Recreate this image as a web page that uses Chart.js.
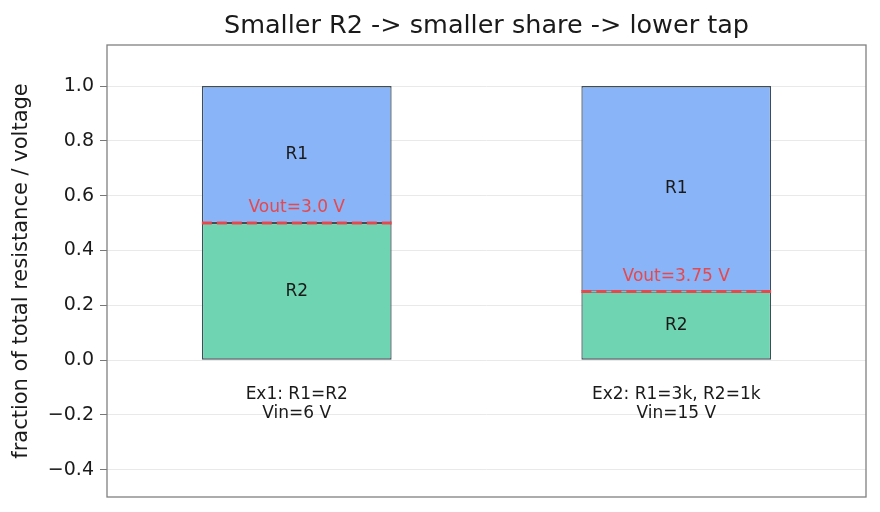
<!DOCTYPE html>
<html>
<head>
<meta charset="utf-8">
<script src="https://cdn.jsdelivr.net/npm/chart.js@4.4.1/dist/chart.umd.min.js"></script>
<style>
  html, body { margin: 0; padding: 0; background: #fff; overflow: hidden; }
  #wrap { width: 880px; height: 512px; position: relative; }
</style>
</head>
<body>
<div id="wrap"><canvas id="divider"></canvas></div>
<script>
const categories = ["Ex1: R1=R2\nVin=6 V", "Ex2: R1=3k, R2=1k\nVin=15 V"];
const r2Share = [0.5, 0.25];
const r1Share = [0.5, 0.75];
const vin = [6, 15];
const vout = [3.0, 3.75];
const voutText = ["3.0", "3.75"];
const yTicks = [-0.4, -0.2, 0.0, 0.2, 0.4, 0.6, 0.8, 1.0];

const FONT = "'DejaVu Sans', sans-serif";
const RED = "#e5484d";

const overlay = {
  id: "overlay",
  afterDatasetsDraw(chart) {
    const { ctx, chartArea, scales } = chart;
    const y = scales.y;
    const bars = chart.getDatasetMeta(0).data;
    ctx.save();

    bars.forEach((bar, i) => {
      const half = bar.width / 2;
      const cx = bar.x;
      // text inside segments
      ctx.fillStyle = "#1a1a1a";
      ctx.font = "17px " + FONT;
      ctx.textAlign = "center";
      ctx.textBaseline = "middle";
      ctx.fillText("R2", cx, y.getPixelForValue(r2Share[i] / 2));
      ctx.fillText("R1", cx, y.getPixelForValue(r2Share[i] + r1Share[i] / 2));

      // vout line
      const vy = y.getPixelForValue(vout[i] / vin[i]);
      ctx.strokeStyle = RED;
      ctx.lineWidth = 3;
      ctx.setLineDash([10, 5]);
      ctx.beginPath();
      ctx.moveTo(cx - half, vy);
      ctx.lineTo(cx + half, vy);
      ctx.stroke();
      ctx.setLineDash([]);
      ctx.fillStyle = RED;
      ctx.fillText("Vout=" + voutText[i] + " V", cx, vy - 15);

      // category labels inside plot
      ctx.fillStyle = "#1a1a1a";
      const lines = categories[i].split("\n");
      const ly = y.getPixelForValue(-0.125);
      lines.forEach((t, k) => ctx.fillText(t, cx, ly + k * 19));
    });

    // frame
    ctx.strokeStyle = "#808080";
    ctx.lineWidth = 1.3;
    ctx.strokeRect(chartArea.left, chartArea.top, chartArea.right - chartArea.left, chartArea.bottom - chartArea.top);

    // title
    ctx.fillStyle = "#1a1a1a";
    ctx.font = "25.5px " + FONT;
    ctx.textAlign = "center";
    ctx.textBaseline = "alphabetic";
    ctx.fillText("Smaller R2 -> smaller share -> lower tap", (chartArea.left + chartArea.right) / 2, 33);
    ctx.restore();
  }
};

new Chart(document.getElementById("divider"), {
  type: "bar",
  data: {
    labels: categories,
    datasets: [
      {
        label: "R2",
        data: r2Share,
        backgroundColor: "#6fd4b1",
        borderColor: "#3f4d57",
        borderWidth: 1.3,
        borderSkipped: false,
        barPercentage: 0.5,
        categoryPercentage: 1.0
      },
      {
        label: "R1",
        data: r1Share,
        backgroundColor: "#89b4f8",
        borderColor: "#3f4d57",
        borderWidth: 1.3,
        borderSkipped: false,
        barPercentage: 0.5,
        categoryPercentage: 1.0
      }
    ]
  },
  options: {
    responsive: true,
    maintainAspectRatio: false,
    animation: false,
    layout: { padding: { left: 0, right: 14, top: 45, bottom: 15 } },
    plugins: {
      legend: { display: false },
      tooltip: { enabled: false },
      title: { display: false }
    },
    scales: {
      x: {
        stacked: true,
        display: false
      },
      y: {
        stacked: true,
        min: -0.5,
        max: 1.15,
        afterBuildTicks(scale) {
          scale.ticks = yTicks.map(v => ({ value: v }));
        },
        afterFit(scale) {
          scale.width = 107;
          scale.paddingTop = 0;
          scale.paddingBottom = 0;
        },
        ticks: {
          color: "#1a1a1a",
          font: { family: FONT, size: 19 },
          padding: 6,
          callback: v => v.toFixed(1).replace(/-/g, "\u2212")
        },
        grid: {
          color: "#e3e3e3",
          tickColor: "#555555",
          tickLength: 7,
          lineWidth: 0.8
        },
        border: { display: false },
        title: {
          display: true,
          text: "fraction of total resistance / voltage",
          color: "#1a1a1a",
          font: { family: FONT, size: 21 },
          padding: { top: 9, bottom: 0 }
        }
      }
    }
  },
  plugins: [overlay]
});
</script>
</body>
</html>
